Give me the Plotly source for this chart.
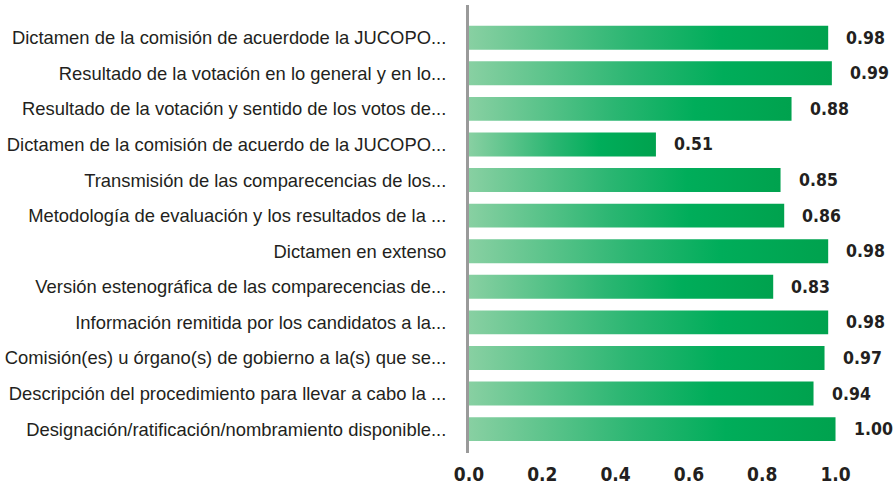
import plotly.graph_objects as go

# Datos (de arriba hacia abajo)
labels = [
    "Dictamen de la comisión de acuerdode la JUCOPO...",
    "Resultado de la votación en lo general y en lo...",
    "Resultado de la votación y sentido de los votos de...",
    "Dictamen de la comisión de acuerdo de la JUCOPO...",
    "Transmisión de las comparecencias de los...",
    "Metodología de evaluación y los resultados de la ...",
    "Dictamen en extenso",
    "Versión estenográfica de las comparecencias de...",
    "Información remitida por los candidatos a la...",
    "Comisión(es) u órgano(s) de gobierno a la(s) que se...",
    "Descripción del procedimiento para llevar a cabo la ...",
    "Designación/ratificación/nombramiento disponible...",
]
values = [0.98, 0.99, 0.88, 0.51, 0.85, 0.86, 0.98, 0.83, 0.98, 0.97, 0.94, 1.00]
x_ticks = [0, 0.2, 0.4, 0.6, 0.8, 1.0]

num_font = "DejaVu Sans Condensed, Liberation Sans Narrow, DejaVu Sans, sans-serif"
half = 0.336  # media altura de barra

fig = go.Figure()

# Barras con degradado horizontal
for i, v in enumerate(values):
    fig.add_trace(go.Scatter(
        x=[0, v, v, 0, 0],
        y=[i - half, i - half, i + half, i + half, i - half],
        mode="lines",
        line=dict(width=0),
        fill="toself",
        fillgradient=dict(
            type="horizontal",
            colorscale=[[0, "#88d0a2"], [0.45, "#2bb672"], [0.7, "#00ad5a"], [1, "#00a24e"]],
        ),
        hoverinfo="skip",
        showlegend=False,
    ))

# Etiquetas de valor
for i, v in enumerate(values):
    fig.add_annotation(
        x=v, y=i, text=f"{v:.2f}", showarrow=False,
        xanchor="left", xshift=16,
        font=dict(family=num_font, size=17.5, color="#231f20", weight="bold"),
    )

fig.update_layout(
    width=896, height=485,
    margin=dict(l=469, r=0, t=5, b=30),
    plot_bgcolor="white",
    paper_bgcolor="white",
    showlegend=False,
    xaxis=dict(
        range=[0, 1.165],
        tickvals=x_ticks,
        tickformat=".1f",
        showgrid=False,
        zeroline=False,
        showline=False,
        tickfont=dict(family=num_font, size=19, color="#231f20", weight="bold"),
        ticklabelstandoff=8,
    ),
    yaxis=dict(
        range=[11.67, -0.92],
        tickvals=list(range(len(labels))),
        ticktext=labels,
        showgrid=False,
        zeroline=False,
        showline=True,
        linecolor="#9a9a9a",
        linewidth=3,
        ticks="",
        ticklabelstandoff=16,
        tickfont=dict(family="Liberation Sans, Arial, sans-serif", size=18.4, color="#231f20"),
    ),
)

# quitar el margen por defecto del body para que la figura ocupe toda la ventana
fig.write_html(
    "out.html",
    config={"displayModeBar": False},
    post_script="document.body.style.margin='0';document.body.style.overflow='hidden';",
)
